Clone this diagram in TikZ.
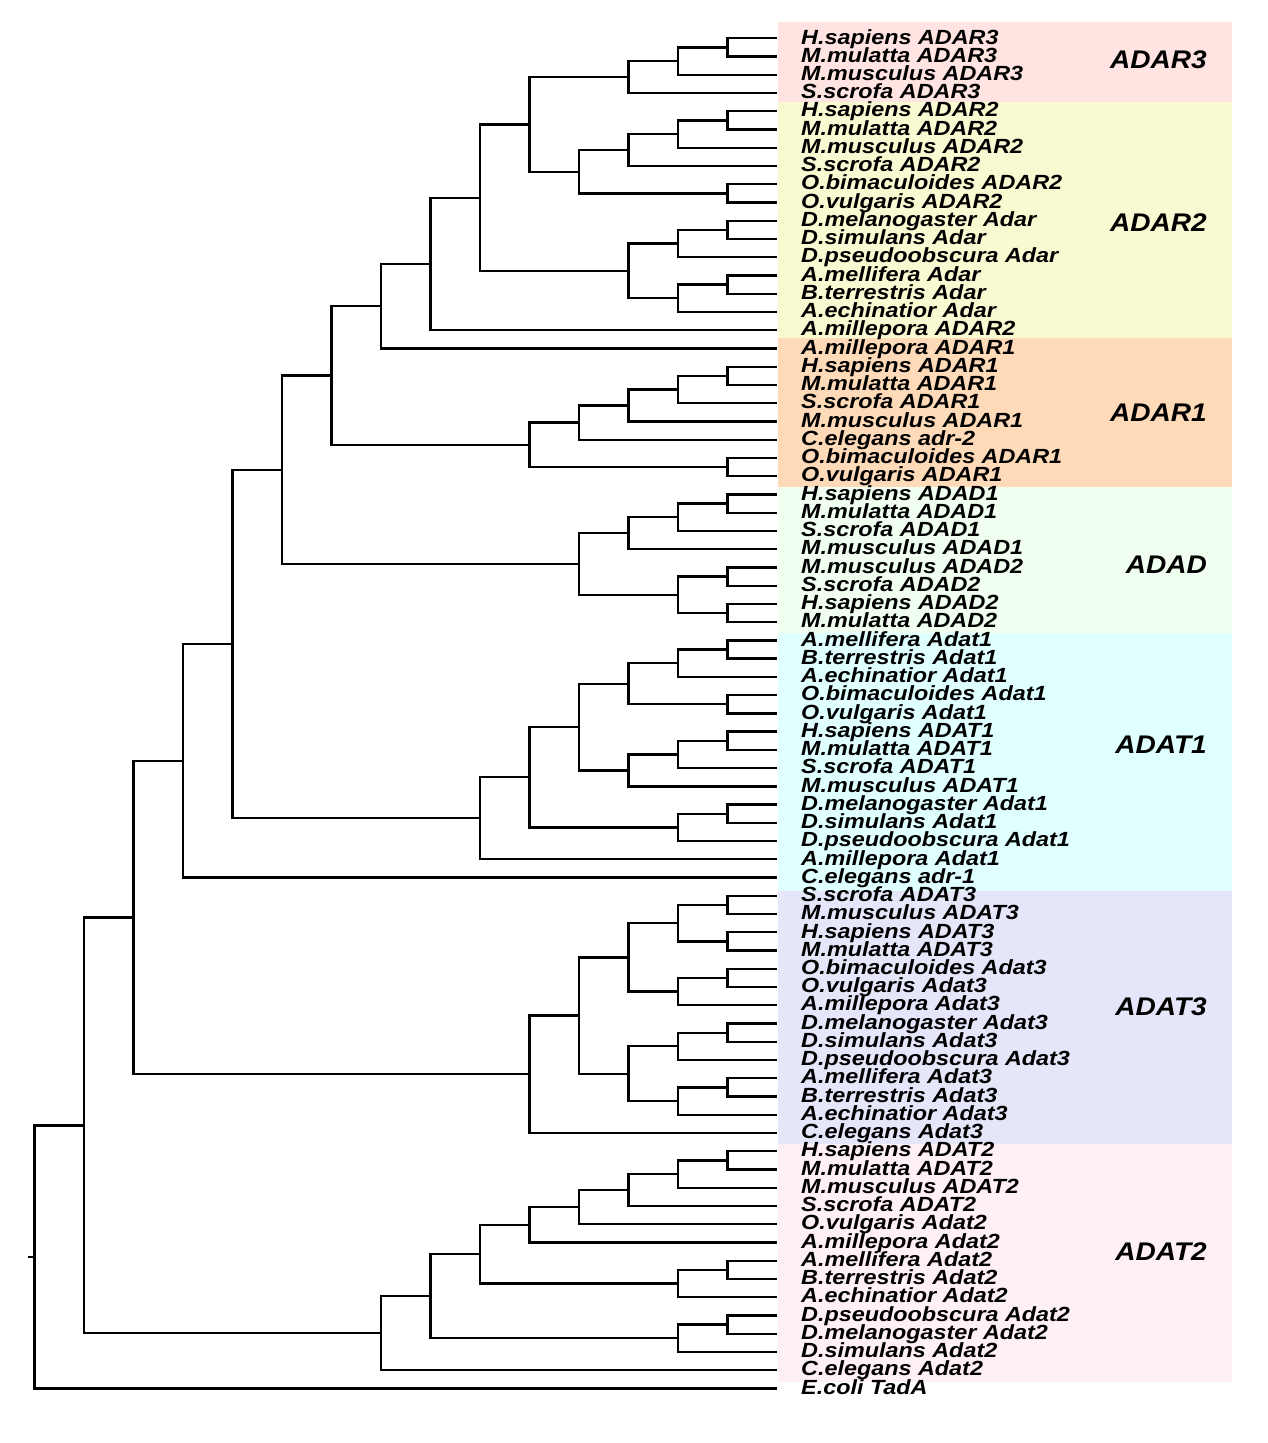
\documentclass[tikz,border=0pt]{standalone}
\usepackage{fontspec}
\newfontfamily\leaffont[FakeStretch=1.14]{Liberation Sans}
\newfontfamily\groupfont[FakeStretch=1.1]{Liberation Sans}
\usetikzlibrary{calc}
\definecolor{cADARthree}{HTML}{FFE4E1}
\definecolor{cADARtwo}{HTML}{FAFAD2}
\definecolor{cADARone}{HTML}{FFDAB9}
\definecolor{cADAD}{HTML}{F0FFF0}
\definecolor{cADATone}{HTML}{E0FFFF}
\definecolor{cADATthree}{HTML}{E6E6FA}
\definecolor{cADATtwo}{HTML}{FFF0F5}
\tikzset{
  branch/.style={draw=black,line width=2.3pt},
  leaf/.style={anchor=base west,inner sep=0pt,font={\leaffont\bfseries\itshape\fontsize{20.5pt}{21pt}\selectfont}},
  group/.style={anchor=base east,inner sep=0pt,font={\groupfont\bfseries\itshape\fontsize{25.5pt}{26pt}\selectfont}}
}
\newcommand\clade[4]{%
  \path ($(#3)!0.5!(#4)$) coordinate (#1m);
  \coordinate (#1) at (#1m -| L#2);
  \draw[branch] (#3) -| (#1) |- (#4);
}
\begin{document}
\begin{tikzpicture}[x=1pt,y=-1pt]
\useasboundingbox[fill=white] (0,0) rectangle (1268,1443);
% colour bands
\fill[cADARthree] (778,22) rectangle (1232,102);
\fill[cADARtwo] (778,102) rectangle (1232,338);
\fill[cADARone] (778,338) rectangle (1232,487);
\fill[cADAD] (778,487) rectangle (1232,633);
\fill[cADATone] (778,633) rectangle (1232,891);
\fill[cADATthree] (778,891) rectangle (1232,1144);
\fill[cADATtwo] (778,1144) rectangle (1232,1382);
% levels
\foreach \h in {1,...,15} \coordinate (L\h) at ({777-49.5*\h},0);
% leaves
\foreach \t [count=\i] in {
H.sapiens ADAR3, M.mulatta ADAR3, M.musculus ADAR3, S.scrofa ADAR3,
H.sapiens ADAR2, M.mulatta ADAR2, M.musculus ADAR2, S.scrofa ADAR2, O.bimaculoides ADAR2, O.vulgaris ADAR2,
D.melanogaster Adar, D.simulans Adar, D.pseudoobscura Adar, A.mellifera Adar, B.terrestris Adar, A.echinatior Adar, A.millepora ADAR2,
A.millepora ADAR1, H.sapiens ADAR1, M.mulatta ADAR1, S.scrofa ADAR1, M.musculus ADAR1, C.elegans adr-2, O.bimaculoides ADAR1, O.vulgaris ADAR1,
H.sapiens ADAD1, M.mulatta ADAD1, S.scrofa ADAD1, M.musculus ADAD1, M.musculus ADAD2, S.scrofa ADAD2, H.sapiens ADAD2, M.mulatta ADAD2,
A.mellifera Adat1, B.terrestris Adat1, A.echinatior Adat1, O.bimaculoides Adat1, O.vulgaris Adat1, H.sapiens ADAT1, M.mulatta ADAT1, S.scrofa ADAT1, M.musculus ADAT1, D.melanogaster Adat1, D.simulans Adat1, D.pseudoobscura Adat1, A.millepora Adat1, C.elegans adr-1,
S.scrofa ADAT3, M.musculus ADAT3, H.sapiens ADAT3, M.mulatta ADAT3, O.bimaculoides Adat3, O.vulgaris Adat3, A.millepora Adat3, D.melanogaster Adat3, D.simulans Adat3, D.pseudoobscura Adat3, A.mellifera Adat3, B.terrestris Adat3, A.echinatior Adat3, C.elegans Adat3,
H.sapiens ADAT2, M.mulatta ADAT2, M.musculus ADAT2, S.scrofa ADAT2, O.vulgaris Adat2, A.millepora Adat2, A.mellifera Adat2, B.terrestris Adat2, A.echinatior Adat2, D.pseudoobscura Adat2, D.melanogaster Adat2, D.simulans Adat2, C.elegans Adat2,
E.coli TadA}
{
  \coordinate (l\i) at (777,{38.3+(\i-1)*18.245});
  \node[leaf] (t\i) at (801,{44+(\i-1)*18.245}) {\t};
}
% ADAR3
\clade{aa}{1}{l1}{l2}
\clade{ab}{2}{aa}{l3}
\clade{ac}{3}{ab}{l4}
% ADAR2
\clade{ba}{1}{l5}{l6}
\clade{bb}{2}{ba}{l7}
\clade{bc}{3}{bb}{l8}
\clade{bd}{1}{l9}{l10}
\clade{be}{4}{bc}{bd}
\clade{bf}{5}{ac}{be}
% insect Adar
\clade{ca}{1}{l11}{l12}
\clade{cb}{2}{ca}{l13}
\clade{cc}{1}{l14}{l15}
\clade{cd}{2}{cc}{l16}
\clade{ce}{3}{cb}{cd}
\clade{cf}{6}{bf}{ce}
\clade{cg}{7}{cf}{l17}
\clade{ch}{8}{cg}{l18}
% ADAR1
\clade{da}{1}{l19}{l20}
\clade{db}{2}{da}{l21}
\clade{dc}{3}{db}{l22}
\clade{dd}{4}{dc}{l23}
\clade{de}{1}{l24}{l25}
\clade{df}{5}{dd}{de}
\clade{dg}{9}{ch}{df}
% ADAD
\clade{ea}{1}{l26}{l27}
\clade{eb}{2}{ea}{l28}
\clade{ec}{3}{eb}{l29}
\clade{ed}{1}{l30}{l31}
\clade{ee}{1}{l32}{l33}
\clade{ef}{2}{ed}{ee}
\clade{eg}{4}{ec}{ef}
\clade{eh}{10}{dg}{eg}
% ADAT1
\clade{fa}{1}{l34}{l35}
\clade{fb}{2}{fa}{l36}
\clade{fc}{1}{l37}{l38}
\clade{fd}{3}{fb}{fc}
\clade{fe}{1}{l39}{l40}
\clade{ff}{2}{fe}{l41}
\clade{fg}{3}{ff}{l42}
\clade{fh}{4}{fd}{fg}
\clade{fi}{1}{l43}{l44}
\clade{fj}{2}{fi}{l45}
\clade{fk}{5}{fh}{fj}
\clade{fl}{6}{fk}{l46}
\clade{fm}{11}{eh}{fl}
\clade{fn}{12}{fm}{l47}
% ADAT3
\clade{ga}{1}{l48}{l49}
\clade{gb}{1}{l50}{l51}
\clade{gc}{2}{ga}{gb}
\clade{gd}{1}{l52}{l53}
\clade{ge}{2}{gd}{l54}
\clade{gf}{3}{gc}{ge}
\clade{gg}{1}{l55}{l56}
\clade{gh}{2}{gg}{l57}
\clade{gi}{1}{l58}{l59}
\clade{gj}{2}{gi}{l60}
\clade{gk}{3}{gh}{gj}
\clade{gl}{4}{gf}{gk}
\clade{gm}{5}{gl}{l61}
\clade{gn}{13}{fn}{gm}
% ADAT2
\clade{ka}{1}{l62}{l63}
\clade{kb}{2}{ka}{l64}
\clade{kc}{3}{kb}{l65}
\clade{kd}{4}{kc}{l66}
\clade{ke}{5}{kd}{l67}
\clade{kf}{1}{l68}{l69}
\clade{kg}{2}{kf}{l70}
\clade{kh}{6}{ke}{kg}
\clade{ki}{1}{l71}{l72}
\clade{kj}{2}{ki}{l73}
\clade{kk}{7}{kh}{kj}
\clade{kl}{8}{kk}{l74}
\clade{km}{14}{gn}{kl}
\clade{root}{15}{km}{l75}
\coordinate (stub) at ($(root)+(-7,0)$);
\draw[branch] (root) -- (stub);
% group labels
\node[group] (gADARthree) at (1207,68.5) {ADAR3};
\node[group] (gADARtwo) at (1207,231) {ADAR2};
\node[group] (gADARone) at (1207,421) {ADAR1};
\node[group] (gADAD) at (1207,573) {ADAD};
\node[group] (gADATone) at (1207,753) {ADAT1};
\node[group] (gADATthree) at (1207,1015) {ADAT3};
\node[group] (gADATtwo) at (1207,1260) {ADAT2};
\end{tikzpicture}
\end{document}
